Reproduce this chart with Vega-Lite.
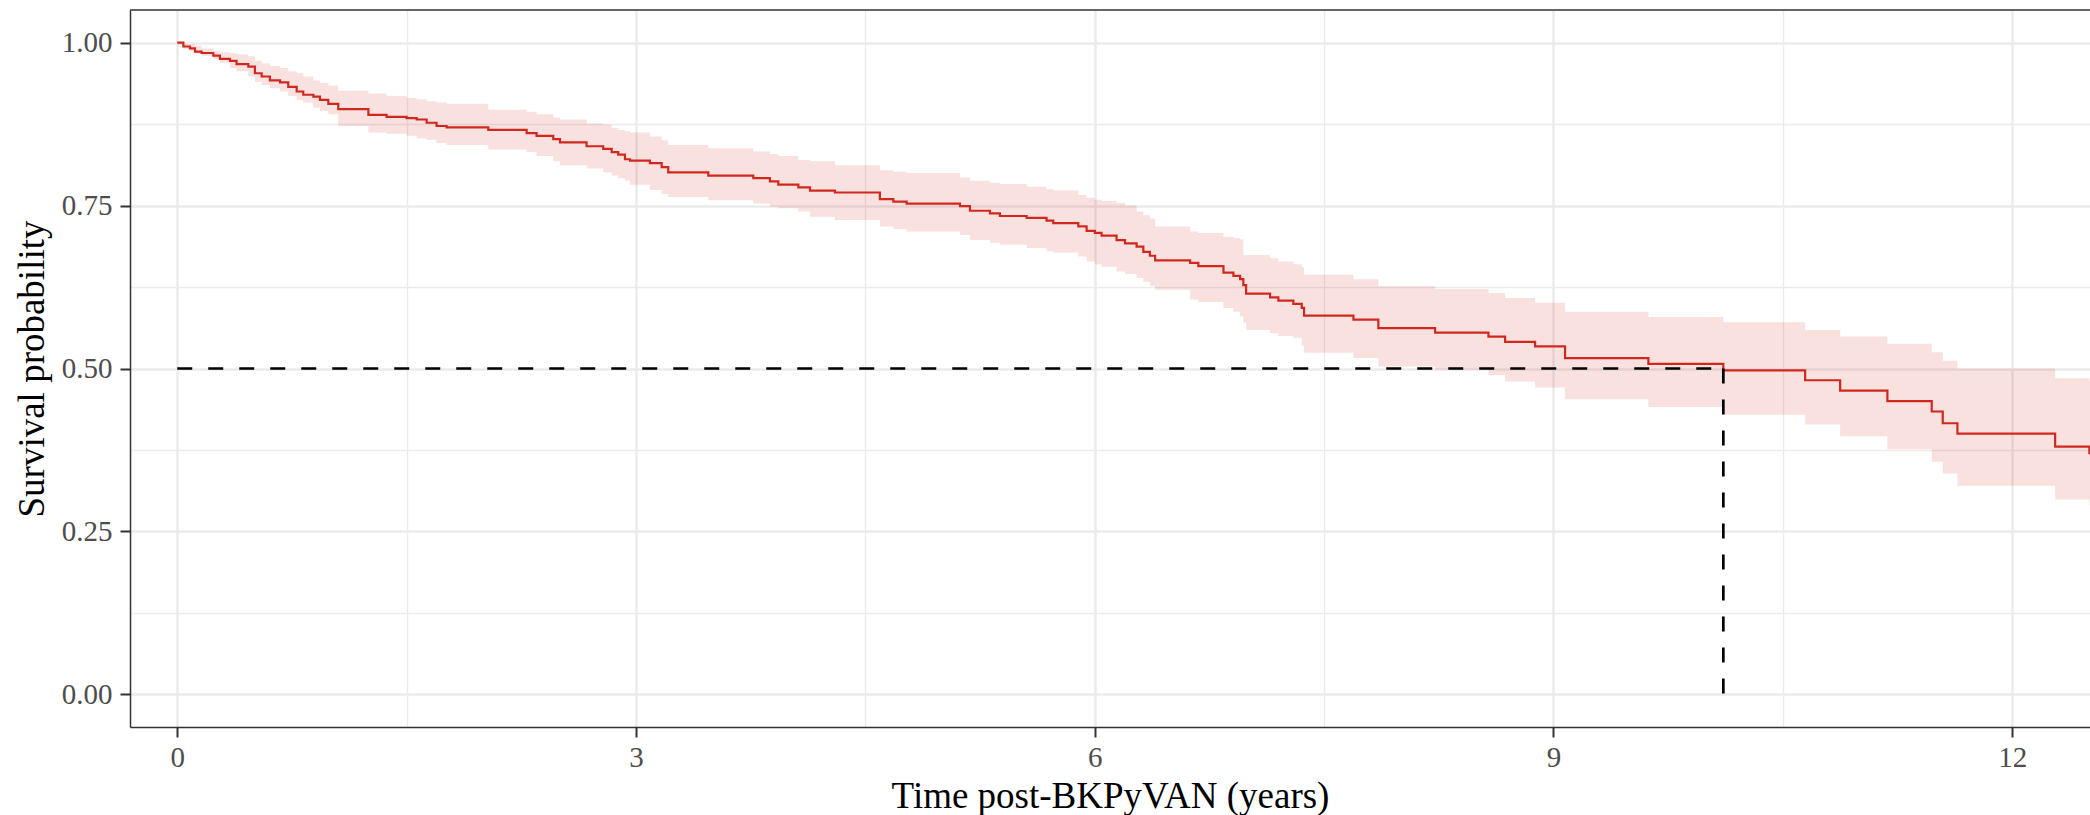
{
  "$schema": "https://vega.github.io/schema/vega-lite/v6.json",
  "autosize": {"type": "none"},
  "padding": {"left": 130, "top": 10, "right": 0, "bottom": 88},
  "width": 1960,
  "height": 717,
  "background": "white",
  "config": {
    "view": {"stroke": null},
    "font": "Liberation Serif"
  },
  "datasets": {
    "km": [
      {"t": 0, "s": 1.0}, {"t": 0.04, "s": 0.994}, {"t": 0.083, "s": 0.991}, {"t": 0.116, "s": 0.986},
      {"t": 0.159, "s": 0.984}, {"t": 0.236, "s": 0.98}, {"t": 0.279, "s": 0.975}, {"t": 0.345, "s": 0.972},
      {"t": 0.388, "s": 0.967}, {"t": 0.465, "s": 0.963}, {"t": 0.508, "s": 0.953}, {"t": 0.552, "s": 0.948},
      {"t": 0.606, "s": 0.942}, {"t": 0.672, "s": 0.939}, {"t": 0.726, "s": 0.932}, {"t": 0.781, "s": 0.925},
      {"t": 0.824, "s": 0.92}, {"t": 0.89, "s": 0.917}, {"t": 0.933, "s": 0.912}, {"t": 0.988, "s": 0.906},
      {"t": 1.053, "s": 0.898}, {"t": 1.25, "s": 0.889}, {"t": 1.369, "s": 0.886}, {"t": 1.5, "s": 0.884},
      {"t": 1.566, "s": 0.882}, {"t": 1.631, "s": 0.877}, {"t": 1.696, "s": 0.872}, {"t": 1.762, "s": 0.87},
      {"t": 2.034, "s": 0.866}, {"t": 2.285, "s": 0.861}, {"t": 2.35, "s": 0.857}, {"t": 2.459, "s": 0.852},
      {"t": 2.503, "s": 0.847}, {"t": 2.677, "s": 0.841}, {"t": 2.786, "s": 0.837}, {"t": 2.841, "s": 0.832},
      {"t": 2.884, "s": 0.828}, {"t": 2.928, "s": 0.821}, {"t": 2.961, "s": 0.819}, {"t": 3.091, "s": 0.815},
      {"t": 3.168, "s": 0.809}, {"t": 3.211, "s": 0.801}, {"t": 3.473, "s": 0.796}, {"t": 3.767, "s": 0.792},
      {"t": 3.876, "s": 0.787}, {"t": 3.931, "s": 0.782}, {"t": 4.062, "s": 0.778}, {"t": 4.138, "s": 0.773},
      {"t": 4.301, "s": 0.77}, {"t": 4.595, "s": 0.76}, {"t": 4.683, "s": 0.756}, {"t": 4.77, "s": 0.753},
      {"t": 5.119, "s": 0.749}, {"t": 5.184, "s": 0.742}, {"t": 5.315, "s": 0.738}, {"t": 5.38, "s": 0.734},
      {"t": 5.555, "s": 0.731}, {"t": 5.685, "s": 0.727}, {"t": 5.729, "s": 0.723}, {"t": 5.893, "s": 0.718},
      {"t": 5.947, "s": 0.711}, {"t": 6.001, "s": 0.708}, {"t": 6.045, "s": 0.704}, {"t": 6.143, "s": 0.697},
      {"t": 6.198, "s": 0.692}, {"t": 6.274, "s": 0.687}, {"t": 6.318, "s": 0.679}, {"t": 6.361, "s": 0.673},
      {"t": 6.395, "s": 0.666}, {"t": 6.624, "s": 0.662}, {"t": 6.678, "s": 0.657}, {"t": 6.842, "s": 0.647},
      {"t": 6.907, "s": 0.642}, {"t": 6.951, "s": 0.637}, {"t": 6.972, "s": 0.628}, {"t": 6.99, "s": 0.615},
      {"t": 7.147, "s": 0.609}, {"t": 7.201, "s": 0.604}, {"t": 7.299, "s": 0.599}, {"t": 7.354, "s": 0.593},
      {"t": 7.369, "s": 0.581}, {"t": 7.692, "s": 0.575}, {"t": 7.855, "s": 0.562}, {"t": 8.226, "s": 0.555},
      {"t": 8.575, "s": 0.549}, {"t": 8.684, "s": 0.541}, {"t": 8.88, "s": 0.534}, {"t": 9.076, "s": 0.516},
      {"t": 9.621, "s": 0.507}, {"t": 10.111, "s": 0.497}, {"t": 10.646, "s": 0.482}, {"t": 10.875, "s": 0.466},
      {"t": 11.184, "s": 0.45}, {"t": 11.474, "s": 0.434}, {"t": 11.546, "s": 0.416}, {"t": 11.642, "s": 0.4},
      {"t": 12.281, "s": 0.38}, {"t": 12.505, "s": 0.37}, {"t": 12.7, "s": 0.37}
    ],
    "ci": [
      {"t": 0, "hi": 1.0, "lo": 0.997}, {"t": 0.04, "hi": 0.998, "lo": 0.99}, {"t": 0.083, "hi": 0.998, "lo": 0.988},
      {"t": 0.116, "hi": 0.995, "lo": 0.983}, {"t": 0.159, "hi": 0.991, "lo": 0.98}, {"t": 0.236, "hi": 0.988, "lo": 0.975},
      {"t": 0.279, "hi": 0.985, "lo": 0.969}, {"t": 0.345, "hi": 0.984, "lo": 0.961}, {"t": 0.388, "hi": 0.982, "lo": 0.956},
      {"t": 0.465, "hi": 0.979, "lo": 0.948}, {"t": 0.508, "hi": 0.972, "lo": 0.94}, {"t": 0.552, "hi": 0.968, "lo": 0.935},
      {"t": 0.606, "hi": 0.964, "lo": 0.93}, {"t": 0.672, "hi": 0.961, "lo": 0.925}, {"t": 0.726, "hi": 0.956, "lo": 0.918},
      {"t": 0.781, "hi": 0.953, "lo": 0.912}, {"t": 0.824, "hi": 0.948, "lo": 0.908}, {"t": 0.89, "hi": 0.942, "lo": 0.9},
      {"t": 0.933, "hi": 0.938, "lo": 0.895}, {"t": 0.988, "hi": 0.934, "lo": 0.89}, {"t": 1.053, "hi": 0.926, "lo": 0.872},
      {"t": 1.25, "hi": 0.922, "lo": 0.862}, {"t": 1.369, "hi": 0.918, "lo": 0.86}, {"t": 1.5, "hi": 0.915, "lo": 0.857},
      {"t": 1.566, "hi": 0.913, "lo": 0.853}, {"t": 1.631, "hi": 0.91, "lo": 0.851}, {"t": 1.696, "hi": 0.908, "lo": 0.846},
      {"t": 1.762, "hi": 0.906, "lo": 0.843}, {"t": 2.034, "hi": 0.897, "lo": 0.836}, {"t": 2.285, "hi": 0.894, "lo": 0.832},
      {"t": 2.35, "hi": 0.89, "lo": 0.826}, {"t": 2.459, "hi": 0.885, "lo": 0.818}, {"t": 2.503, "hi": 0.882, "lo": 0.812},
      {"t": 2.677, "hi": 0.876, "lo": 0.807}, {"t": 2.786, "hi": 0.874, "lo": 0.801}, {"t": 2.841, "hi": 0.869, "lo": 0.796},
      {"t": 2.884, "hi": 0.866, "lo": 0.792}, {"t": 2.928, "hi": 0.864, "lo": 0.788}, {"t": 2.961, "hi": 0.862, "lo": 0.782},
      {"t": 3.091, "hi": 0.856, "lo": 0.774}, {"t": 3.168, "hi": 0.85, "lo": 0.768}, {"t": 3.211, "hi": 0.843, "lo": 0.763},
      {"t": 3.473, "hi": 0.838, "lo": 0.758}, {"t": 3.767, "hi": 0.833, "lo": 0.753}, {"t": 3.876, "hi": 0.829, "lo": 0.748},
      {"t": 3.931, "hi": 0.826, "lo": 0.746}, {"t": 4.062, "hi": 0.82, "lo": 0.741}, {"t": 4.138, "hi": 0.818, "lo": 0.733},
      {"t": 4.301, "hi": 0.812, "lo": 0.728}, {"t": 4.595, "hi": 0.804, "lo": 0.718}, {"t": 4.683, "hi": 0.802, "lo": 0.714},
      {"t": 4.77, "hi": 0.8, "lo": 0.71}, {"t": 5.119, "hi": 0.793, "lo": 0.705}, {"t": 5.184, "hi": 0.788, "lo": 0.697},
      {"t": 5.315, "hi": 0.785, "lo": 0.693}, {"t": 5.38, "hi": 0.783, "lo": 0.69}, {"t": 5.555, "hi": 0.779, "lo": 0.685},
      {"t": 5.685, "hi": 0.775, "lo": 0.68}, {"t": 5.729, "hi": 0.773, "lo": 0.678}, {"t": 5.893, "hi": 0.766, "lo": 0.672},
      {"t": 5.947, "hi": 0.762, "lo": 0.664}, {"t": 6.001, "hi": 0.759, "lo": 0.66}, {"t": 6.045, "hi": 0.757, "lo": 0.656},
      {"t": 6.143, "hi": 0.754, "lo": 0.649}, {"t": 6.198, "hi": 0.75, "lo": 0.645}, {"t": 6.274, "hi": 0.741, "lo": 0.639},
      {"t": 6.318, "hi": 0.735, "lo": 0.633}, {"t": 6.361, "hi": 0.73, "lo": 0.627}, {"t": 6.395, "hi": 0.718, "lo": 0.621},
      {"t": 6.624, "hi": 0.71, "lo": 0.606}, {"t": 6.678, "hi": 0.708, "lo": 0.602}, {"t": 6.842, "hi": 0.702, "lo": 0.593},
      {"t": 6.907, "hi": 0.7, "lo": 0.587}, {"t": 6.951, "hi": 0.698, "lo": 0.58}, {"t": 6.972, "hi": 0.674, "lo": 0.57},
      {"t": 6.99, "hi": 0.674, "lo": 0.559}, {"t": 7.147, "hi": 0.669, "lo": 0.554}, {"t": 7.201, "hi": 0.664, "lo": 0.55},
      {"t": 7.299, "hi": 0.66, "lo": 0.547}, {"t": 7.354, "hi": 0.655, "lo": 0.535}, {"t": 7.369, "hi": 0.644, "lo": 0.524},
      {"t": 7.692, "hi": 0.637, "lo": 0.516}, {"t": 7.855, "hi": 0.626, "lo": 0.503}, {"t": 8.226, "hi": 0.622, "lo": 0.498},
      {"t": 8.575, "hi": 0.616, "lo": 0.49}, {"t": 8.684, "hi": 0.608, "lo": 0.48}, {"t": 8.88, "hi": 0.601, "lo": 0.471},
      {"t": 9.076, "hi": 0.587, "lo": 0.453}, {"t": 9.621, "hi": 0.579, "lo": 0.441}, {"t": 10.111, "hi": 0.571, "lo": 0.429},
      {"t": 10.646, "hi": 0.559, "lo": 0.414}, {"t": 10.875, "hi": 0.549, "lo": 0.396}, {"t": 11.184, "hi": 0.538, "lo": 0.376},
      {"t": 11.474, "hi": 0.525, "lo": 0.357}, {"t": 11.546, "hi": 0.512, "lo": 0.339}, {"t": 11.642, "hi": 0.5, "lo": 0.32},
      {"t": 12.281, "hi": 0.485, "lo": 0.299}, {"t": 12.505, "hi": 0.48, "lo": 0.29}, {"t": 12.7, "hi": 0.48, "lo": 0.29}
    ],
    "median": [
      {"x1": 0, "x2": 10.111, "y1": 0.5, "y2": 0.5},
      {"x1": 10.111, "x2": 10.111, "y1": 0.5, "y2": 0}
    ]
  },
  "layer": [
    {
      "data": {"name": "ci"},
      "mark": {"type": "area", "interpolate": "step-after", "color": "#D0281F", "opacity": 0.14, "clip": true},
      "encoding": {
        "x": {
          "field": "t", "type": "quantitative",
          "scale": {"domain": [-0.309, 12.509], "nice": false, "zero": false},
          "axis": {
            "title": "Time post-BKPyVAN (years)",
            "values": [0, 1.5, 3, 4.5, 6, 7.5, 9, 10.5, 12],
            "labelExpr": "datum.value % 3 === 0 ? datum.label : ''",
            "format": "d",
            "grid": true,
            "gridColor": "#EBEBEB",
            "gridWidth": {"condition": {"test": "datum.value % 3 === 0", "value": 2.5}, "value": 1.3},
            "domainColor": "#333333",
            "domainWidth": 1.5,
            "tickColor": "#333333",
            "tickWidth": 2,
            "tickSize": 10,
            "tickOpacity": {"condition": {"test": "datum.value % 3 === 0", "value": 1}, "value": 0},
            "labelFont": "Liberation Serif",
            "labelFontSize": 29,
            "labelColor": "#4D4D4D",
            "labelPadding": 6,
            "titleFont": "Liberation Serif",
            "titleFontSize": 37,
            "titleFontWeight": "normal",
            "titleColor": "#000000",
            "titlePadding": 6
          }
        },
        "y": {
          "field": "lo", "type": "quantitative",
          "scale": {"domain": [-0.05, 1.05], "nice": false, "zero": false},
          "axis": {
            "title": "Survival probability",
            "values": [0, 0.125, 0.25, 0.375, 0.5, 0.625, 0.75, 0.875, 1],
            "labelExpr": "(datum.value * 4) % 1 === 0 ? format(datum.value, '.2f') : ''",
            "grid": true,
            "gridColor": "#EBEBEB",
            "gridWidth": {"condition": {"test": "(datum.value * 4) % 1 === 0", "value": 2.5}, "value": 1.3},
            "domainColor": "#333333",
            "domainWidth": 1.5,
            "tickColor": "#333333",
            "tickWidth": 2,
            "tickSize": 10,
            "tickOpacity": {"condition": {"test": "(datum.value * 4) % 1 === 0", "value": 1}, "value": 0},
            "labelFont": "Liberation Serif",
            "labelFontSize": 29,
            "labelColor": "#4D4D4D",
            "labelPadding": 8,
            "titleFont": "Liberation Serif",
            "titleFontSize": 37,
            "titleFontWeight": "normal",
            "titleColor": "#000000",
            "titlePadding": 10
          }
        },
        "y2": {"field": "hi"}
      }
    },
    {
      "data": {"name": "km"},
      "mark": {"type": "line", "interpolate": "step-after", "color": "#D0281F", "strokeWidth": 2.2, "clip": true},
      "encoding": {
        "x": {"field": "t", "type": "quantitative"},
        "y": {"field": "s", "type": "quantitative"}
      }
    },
    {
      "data": {"name": "median"},
      "mark": {"type": "rule", "color": "#000000", "strokeWidth": 2.7, "strokeDash": [15, 16], "clip": true},
      "encoding": {
        "x": {"field": "x1", "type": "quantitative"},
        "x2": {"field": "x2"},
        "y": {"field": "y1", "type": "quantitative"},
        "y2": {"field": "y2"}
      }
    },
    {
      "data": {"values": [{}]},
      "mark": {"type": "rule", "color": "#333333", "strokeWidth": 1.5},
      "encoding": {"y": {"datum": 1.05, "type": "quantitative"}}
    }
  ]
}
